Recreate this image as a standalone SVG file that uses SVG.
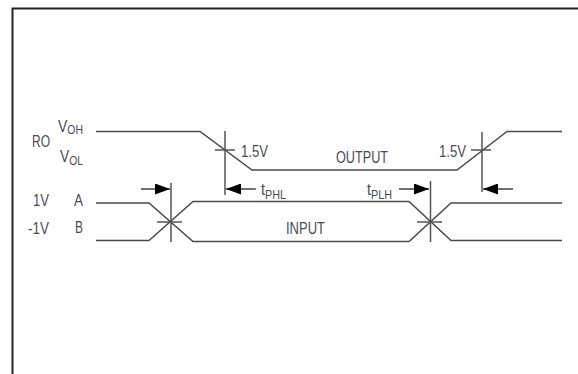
<svg xmlns="http://www.w3.org/2000/svg" width="578" height="374" viewBox="0 0 578 374">
<style>
.w{fill:none;stroke:#4a4a4a;stroke-width:1.5}
.t{fill:none;stroke:#555;stroke-width:1.5}
.a{fill:none;stroke:#111;stroke-width:1.2}
text{font-family:"Liberation Sans",Arial,sans-serif;font-size:16px;fill:#4a4c58}
.s{font-size:12px}
</style>
<defs><marker id="h" markerUnits="userSpaceOnUse" markerWidth="15" markerHeight="11" refX="15" refY="5.500" orient="auto"><path d="M0 0L15 5.500L0 11Z" fill="#000"/></marker></defs>
<rect width="578" height="374" fill="#fff"/>
<path d="M12.500 374V8.500H578" fill="none" stroke="#222" stroke-width="2"/>
<g id="connectors">
<path class="w" d="M96 131.500H200L252 170H457L507 131.500H562"/>
<path class="w" d="M96 203H149L193 241.500H409L451 203H562"/>
<path class="w" d="M96 240.500H149L193 201.500H409L451 240.500H562"/>
<path class="t" d="M225 131V195M215 150H235M482 132V192M471 150H491M171 183V242M157 222H182M430.500 181V242M417 222H442"/>
<path class="a" d="M141 189H170" marker-end="url(#h)"/>
<path class="a" d="M256 189H226" marker-end="url(#h)"/>
<path class="a" d="M399 189H429" marker-end="url(#h)"/>
<path class="a" d="M513 189H483" marker-end="url(#h)"/>
</g>
<g id="labels">
<text x="32" y="147" textLength="18" lengthAdjust="spacingAndGlyphs">RO</text>
<text x="58" y="132" textLength="25" lengthAdjust="spacingAndGlyphs">V<tspan class="s" dy="2">OH</tspan></text>
<text x="60" y="162" textLength="23" lengthAdjust="spacingAndGlyphs">V<tspan class="s" dy="3">OL</tspan></text>
<text x="33" y="206" textLength="16" lengthAdjust="spacingAndGlyphs">1V</text>
<text x="28" y="234" textLength="21" lengthAdjust="spacingAndGlyphs">-1V</text>
<text x="74" y="206" textLength="9" lengthAdjust="spacingAndGlyphs">A</text>
<text x="75" y="233" textLength="8" lengthAdjust="spacingAndGlyphs">B</text>
<text x="241" y="157" textLength="27" lengthAdjust="spacingAndGlyphs">1.5V</text>
<text x="439" y="157" textLength="27" lengthAdjust="spacingAndGlyphs">1.5V</text>
<text x="336" y="163" textLength="52" lengthAdjust="spacingAndGlyphs">OUTPUT</text>
<text x="286" y="234" textLength="39" lengthAdjust="spacingAndGlyphs">INPUT</text>
<text x="261" y="195" textLength="25" lengthAdjust="spacingAndGlyphs">t<tspan class="s" dy="4">PHL</tspan></text>
<text x="367" y="195" textLength="25" lengthAdjust="spacingAndGlyphs">t<tspan class="s" dy="4">PLH</tspan></text>
</g>
</svg>
